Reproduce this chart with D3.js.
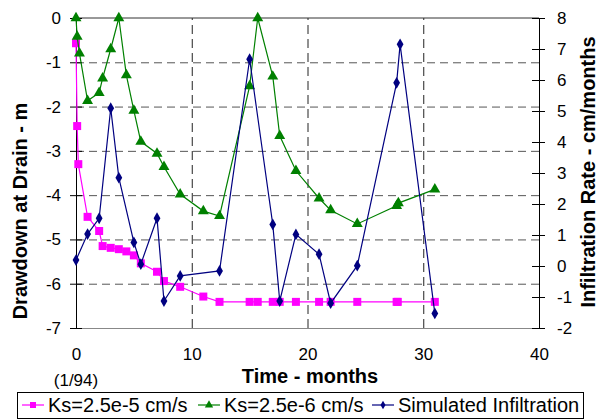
<!DOCTYPE html>
<html>
<head>
<meta charset="utf-8">
<script src="https://cdn.jsdelivr.net/npm/d3@7"></script>
<style>
  body { margin: 0; background: #fff; }
  svg { font-family: "Liberation Sans", Arial, sans-serif; }
</style>
</head>
<body>
<div id="chart-area"></div>
<script>
// drawdown, Ks = 2.5e-5 cm/s (left axis)
let tFast = [0, 0.1, 0.2, 1.0, 2.0, 2.3, 3.0, 3.7, 4.35, 5.0, 5.6, 7.0, 7.6, 9.0, 11.0, 12.4, 15.0, 15.7, 17.0, 17.6, 19.0, 21.0, 22.0, 24.3, 27.7, 27.8, 31.0];
let ddFast = [-0.57, -2.44, -3.3, -4.49, -4.81, -5.15, -5.19, -5.22, -5.27, -5.36, -5.54, -5.73, -5.94, -6.07, -6.29, -6.41, -6.41, -6.41, -6.41, -6.41, -6.41, -6.41, -6.41, -6.41, -6.41, -6.41, -6.41];

// drawdown, Ks = 2.5e-6 cm/s (left axis)
let tSlow = [0, 0.1, 0.3, 1.0, 2.0, 2.3, 3.0, 3.7, 4.35, 5.0, 5.6, 7.0, 7.6, 9.0, 11.0, 12.4, 15.0, 15.7, 17.0, 17.6, 19.0, 21.0, 22.0, 24.3, 27.7, 27.85, 31.0];
let ddSlow = [0, -0.42, -0.8, -1.87, -1.69, -1.36, -0.7, 0, -1.29, -2.09, -2.79, -3.06, -3.36, -3.98, -4.36, -4.47, -1.54, 0, -1.32, -2.66, -3.45, -4.07, -4.34, -4.65, -4.24, -4.18, -3.87];

// simulated infiltration rate (right axis)
let tInf = [0, 1.0, 2.0, 3.0, 3.7, 5.0, 5.6, 7.0, 7.6, 9.0, 12.4, 15.0, 17.0, 17.6, 19.0, 21.0, 22.0, 24.3, 27.7, 28.0, 31.0];
let infRate = [0.19, 1.03, 1.54, 5.09, 2.85, 0.76, 0.06, 1.54, -1.13, -0.32, -0.16, 6.67, 1.34, -1.13, 1.02, 0.38, -1.2, 0.01, 5.91, 7.15, -1.53];

let xTicks = [0, 10, 20, 30, 40];
let leftTicks = [0, -1, -2, -3, -4, -5, -6, -7];
let rightTicks = [8, 7, 6, 5, 4, 3, 2, 1, 0, -1, -2];
let seriesNames = ["Ks=2.5e-5 cm/s", "Ks=2.5e-6 cm/s", "Simulated Infiltration"];

let W = 599, H = 419;
let plot = { left: 76, right: 539, top: 18, bottom: 328 };

let svg = d3
  .select("#chart-area")
  .append("svg")
  .attr("width", W)
  .attr("height", H);

// scales
let x = d3.scaleLinear().domain([0, 40]).range([plot.left, plot.right]);
let yL = d3.scaleLinear().domain([-7, 0]).range([plot.bottom, plot.top]);
let yR = d3.scaleLinear().domain([-2, 8]).range([plot.bottom, plot.top]);

// plain hyphen for negatives, like the original
let fmt = d => String(d);

// horizontal grid (dashed)
svg
  .append("g")
  .attr("transform", "translate(" + plot.left + ",0)")
  .call(d3.axisLeft(yL).tickValues(leftTicks.slice(1, -1)).tickSize(-(plot.right - plot.left)).tickFormat(""))
  .call(g => g.select(".domain").remove())
  .selectAll(".tick line")
  .attr("stroke", "#555")
  .attr("stroke-dasharray", "8,5");

// vertical grid (dashed)
svg
  .append("g")
  .attr("transform", "translate(0," + plot.bottom + ")")
  .call(d3.axisBottom(x).tickValues([10, 20, 30]).tickSize(-(plot.bottom - plot.top)).tickFormat(""))
  .call(g => g.select(".domain").remove())
  .selectAll(".tick line")
  .attr("stroke", "#222")
  .attr("stroke-dasharray", "9,5");

// top border
svg.append("line")
  .attr("x1", plot.left).attr("x2", plot.right)
  .attr("y1", plot.top).attr("y2", plot.top)
  .attr("stroke", "#333");

// x axis
svg
  .append("g")
  .attr("transform", "translate(0," + plot.bottom + ")")
  .call(d3.axisBottom(x).tickValues(xTicks).tickSize(0).tickPadding(20))
  .call(g => g.select(".domain").attr("stroke", "#888"))
  .selectAll("text")
  .attr("font-size", 17)
  .attr("font-family", "Liberation Sans, Arial, sans-serif")
  .attr("fill", "#000");

svg.append("text")
  .attr("x", x(0))
  .attr("y", 386)
  .attr("text-anchor", "middle")
  .attr("font-size", 17)
  .text("(1/94)");

// left axis, ticks cross the line
svg
  .append("g")
  .attr("transform", "translate(" + plot.left + ",0)")
  .call(d3.axisLeft(yL).tickValues(leftTicks).tickSize(6).tickPadding(9).tickFormat(fmt))
  .call(g => g.select(".domain").attr("stroke", "#000"))
  .call(g => g.selectAll(".tick line").attr("x1", 6).attr("x2", -6).attr("stroke", "#000"))
  .selectAll("text")
  .attr("font-size", 17)
  .attr("font-family", "Liberation Sans, Arial, sans-serif")
  .attr("fill", "#000");

// right axis
svg
  .append("g")
  .attr("transform", "translate(" + plot.right + ",0)")
  .call(d3.axisRight(yR).tickValues(rightTicks).tickSize(6).tickPadding(12).tickFormat(fmt))
  .call(g => g.select(".domain").attr("stroke", "#000"))
  .call(g => g.selectAll(".tick line").attr("x1", -7).attr("x2", 6).attr("stroke", "#000"))
  .selectAll("text")
  .attr("font-size", 17)
  .attr("font-family", "Liberation Sans, Arial, sans-serif")
  .attr("fill", "#000");

// axis titles
svg.append("text")
  .attr("transform", "translate(27,211) rotate(-90)")
  .attr("text-anchor", "middle")
  .attr("font-size", 20)
  .attr("font-weight", "bold")
  .text("Drawdown at Drain - m");

svg.append("text")
  .attr("transform", "translate(595,172) rotate(-90)")
  .attr("text-anchor", "middle")
  .attr("font-size", 20)
  .attr("font-weight", "bold")
  .text("Infiltration Rate - cm/months");

svg.append("text")
  .attr("x", 310)
  .attr("y", 383)
  .attr("text-anchor", "middle")
  .attr("font-size", 20)
  .attr("font-weight", "bold")
  .text("Time - months");

// series
let square = d3.symbol().type(d3.symbolSquare).size(64);
let triangle = d3.symbol().type(d3.symbolTriangle).size(52);
let diamond = d3.symbol().type(d3.symbolDiamond).size(40);

let series = [
  { t: tFast, v: ddFast, y: yL, color: "#ff00ff", sym: square },
  { t: tSlow, v: ddSlow, y: yL, color: "#008000", sym: triangle },
  { t: tInf, v: infRate, y: yR, color: "#000080", sym: diamond }
];

series.forEach(s => {
  let pts = s.t.map((t, i) => [t, s.v[i]]);
  let line = d3.line()
    .x(d => x(d[0]))
    .y(d => s.y(d[1]));

  svg.append("path")
    .datum(pts)
    .attr("fill", "none")
    .attr("stroke", s.color)
    .attr("stroke-width", 1.2)
    .attr("d", line);

  svg.selectAll(null)
    .data(pts)
    .enter()
    .append("path")
    .attr("d", s.sym)
    .attr("transform", d => "translate(" + x(d[0]) + "," + s.y(d[1]) + ")")
    .attr("fill", s.color);
});

// legend
svg.append("rect")
  .attr("x", 17.5).attr("y", 392.5)
  .attr("width", 566).attr("height", 26)
  .attr("fill", "#fff")
  .attr("stroke", "#000");

let legendX = [22, 198, 372];
let legendSyms = [
  d3.symbol().type(d3.symbolSquare).size(36),
  d3.symbol().type(d3.symbolTriangle).size(30),
  d3.symbol().type(d3.symbolDiamond).size(22)
];

seriesNames.forEach((name, i) => {
  let g = svg.append("g").attr("transform", "translate(" + legendX[i] + ",405)");
  g.append("line")
    .attr("x1", 0).attr("x2", 22)
    .attr("stroke", series[i].color)
    .attr("stroke-width", 1.2);
  g.append("path")
    .attr("d", legendSyms[i])
    .attr("transform", "translate(11,0)")
    .attr("fill", series[i].color);
  g.append("text")
    .attr("x", 26)
    .attr("y", 7)
    .attr("font-size", 20)
    .text(name);
});
</script>
</body>
</html>
